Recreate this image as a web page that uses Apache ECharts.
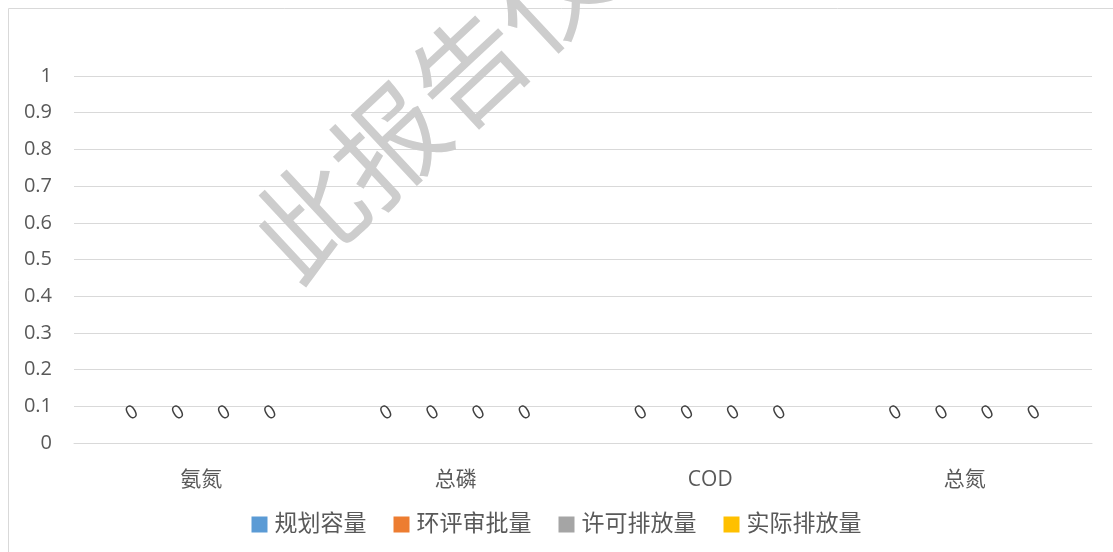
<!DOCTYPE html>
<html>
<head>
<meta charset="utf-8">
<script src="https://cdn.jsdelivr.net/npm/echarts@6/dist/echarts.min.js"></script>
<style>
  html, body { margin: 0; padding: 0; background: #fff; }
  #main { width: 1113px; height: 552px; }
</style>
</head>
<body>
<div id="main"></div>
<script>
  // 类别和系列
  var categories = ['氨氮', '总磷', 'COD', '总氮'];
  var seriesNames = ['规划容量', '环评审批量', '许可排放量', '实际排放量'];
  var planned = [0, 0, 0, 0];
  var approved = [0, 0, 0, 0];
  var permitted = [0, 0, 0, 0];
  var actual = [0, 0, 0, 0];
  var colors = ['#5B9BD5', '#ED7D31', '#A5A5A5', '#FFC000'];
  var watermark = '此报告仅供参考使用';

  var font = '"Open Sans", "Noto Sans CJK SC", sans-serif';
  var allData = [planned, approved, permitted, actual];

  var series = [];
  for (var i = 0; i < seriesNames.length; i++) {
    series.push({
      name: seriesNames[i],
      type: 'bar',
      data: allData[i],
      barGap: '0%',
      barCategoryGap: '27.5%',
      itemStyle: { color: colors[i] },
      label: {
        show: true,
        position: 'top',
        distance: 30,
        rotate: 32,
        align: 'center',
        verticalAlign: 'middle',
        color: '#404040',
        fontSize: 19,
        fontFamily: font
      }
    });
  }

  var chart = echarts.init(document.getElementById('main'));
  chart.setOption({
    animation: false,
    color: colors,
    grid: { left: 74, right: 21, top: 76, bottom: 109 },
    legend: {
      data: seriesNames,
      bottom: 11,
      left: 'center',
      itemWidth: 16,
      itemHeight: 16,
      itemGap: 27,
      icon: 'rect',
      textStyle: { color: '#595959', fontSize: 23, fontFamily: font, padding: [0, 0, 0, 2] }
    },
    xAxis: {
      type: 'category',
      data: categories,
      axisLine: { lineStyle: { color: '#d9d9d9' } },
      axisTick: { show: false },
      axisLabel: { color: '#595959', fontSize: 21, margin: 27, fontFamily: font }
    },
    yAxis: {
      type: 'value',
      min: 0,
      max: 1,
      interval: 0.1,
      axisLine: { show: false },
      axisTick: { show: false },
      axisLabel: { color: '#595959', fontSize: 20, margin: 22, fontFamily: font },
      splitLine: { lineStyle: { color: '#d9d9d9', width: 1 } }
    },
    series: series,
    graphic: [
      {
        type: 'rect',
        shape: { x: 8.5, y: 8.5, width: 1130, height: 570 },
        style: { fill: 'none', stroke: '#d9d9d9', lineWidth: 1 },
        silent: true,
        z: -1
      },
      {
        type: 'text',
        x: 268,
        y: 256,
        rotation: 43 * Math.PI / 180,
        z: 100,
        silent: true,
        style: {
          text: watermark,
          fill: '#cdcdcd',
          font: '110px "Noto Sans CJK SC", sans-serif',
          textAlign: 'left',
          textVerticalAlign: 'middle'
        }
      }
    ]
  });
</script>
</body>
</html>
